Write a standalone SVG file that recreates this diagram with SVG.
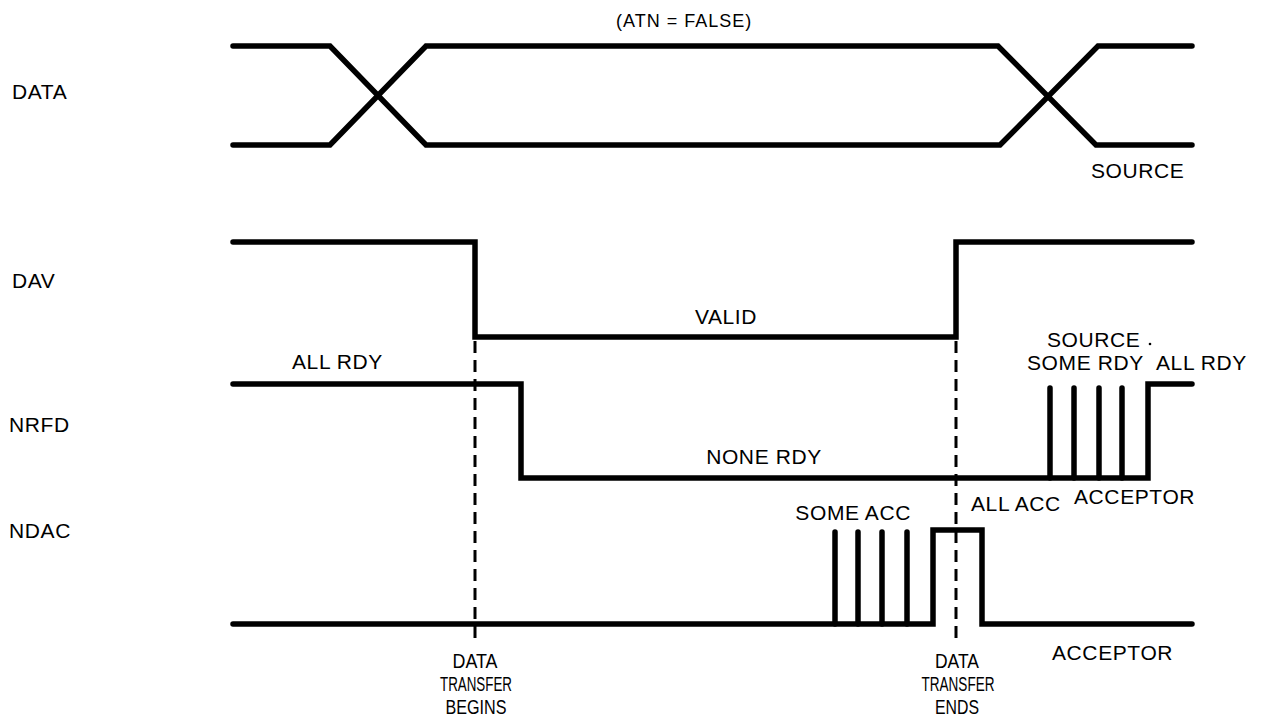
<svg xmlns="http://www.w3.org/2000/svg" width="1261" height="723" viewBox="0 0 1261 723">
<style>
.bg{fill:#fff}
.sig{fill:none;stroke:#000;stroke-width:5.5;stroke-linecap:round;stroke-linejoin:miter}
.dash{fill:none;stroke:#000;stroke-width:3;stroke-dasharray:12 7}
text{font-family:"Liberation Sans",Arial,sans-serif;font-size:21px;letter-spacing:0.6px;fill:#000}
.cond{letter-spacing:0;font-size:20px}
.mid{text-anchor:middle}
</style>
<rect class="bg" x="0" y="0" width="1261" height="723"/>
<g id="title"><text x="616" y="27" style="font-size:18px;letter-spacing:1px">(ATN = FALSE)</text></g>
<g id="data">
<text x="12" y="99">DATA</text>
<path class="sig" d="M233 46 H330 L426 145 H1000 L1098 46 H1192"/>
<path class="sig" d="M233 145 H330 L426 46 H998 L1096 145 H1192"/>
<text x="1091" y="178">SOURCE</text>
</g>
<g id="dav">
<text x="12" y="288">DAV</text>
<path class="sig" d="M233 242 H475 V337 H956 V242 H1192"/>
<text class="mid" x="726" y="324">VALID</text>
</g>
<g id="nrfd">
<text x="9" y="432">NRFD</text>
<text x="292" y="369">ALL RDY</text>
<path class="sig" d="M233 384 H521 V478 H1148 V384 H1192"/>
<path class="sig" d="M1050 478 V388 M1074 478 V388 M1099 478 V388 M1122 478 V388"/>
<text class="mid" x="764" y="464">NONE RDY</text>
<text x="1047" y="347">SOURCE</text>
<circle cx="1150" cy="344" r="1.3" fill="#000"/>
<text x="1027" y="370">SOME RDY</text>
<text x="1156" y="370">ALL RDY</text>
<text x="1074" y="504">ACCEPTOR</text>
</g>
<g id="ndac">
<text x="9" y="538">NDAC</text>
<path class="sig" d="M233 624 H933 V530 H982 V624 H1192"/>
<path class="sig" d="M835 624 V532 M858 624 V532 M882 624 V532 M907 624 V532"/>
<text x="911" y="520" style="text-anchor:end">SOME ACC</text>
<text x="971" y="511">ALL ACC</text>
<text x="1052" y="660">ACCEPTOR</text>
</g>
<g id="connectors">
<path class="dash" d="M475 341 V645"/>
<path class="dash" d="M956 341 V645"/>
</g>
<g id="begins">
<text class="cond mid" x="475" y="668" textLength="45" lengthAdjust="spacingAndGlyphs">DATA</text>
<text class="cond mid" x="476" y="691" textLength="72" lengthAdjust="spacingAndGlyphs">TRANSFER</text>
<text class="cond mid" x="476" y="714" textLength="61" lengthAdjust="spacingAndGlyphs">BEGINS</text>
</g>
<g id="ends">
<text class="cond mid" x="957" y="668" textLength="44" lengthAdjust="spacingAndGlyphs">DATA</text>
<text class="cond mid" x="958" y="691" textLength="73" lengthAdjust="spacingAndGlyphs">TRANSFER</text>
<text class="cond mid" x="957" y="714" textLength="44" lengthAdjust="spacingAndGlyphs">ENDS</text>
</g>
</svg>
